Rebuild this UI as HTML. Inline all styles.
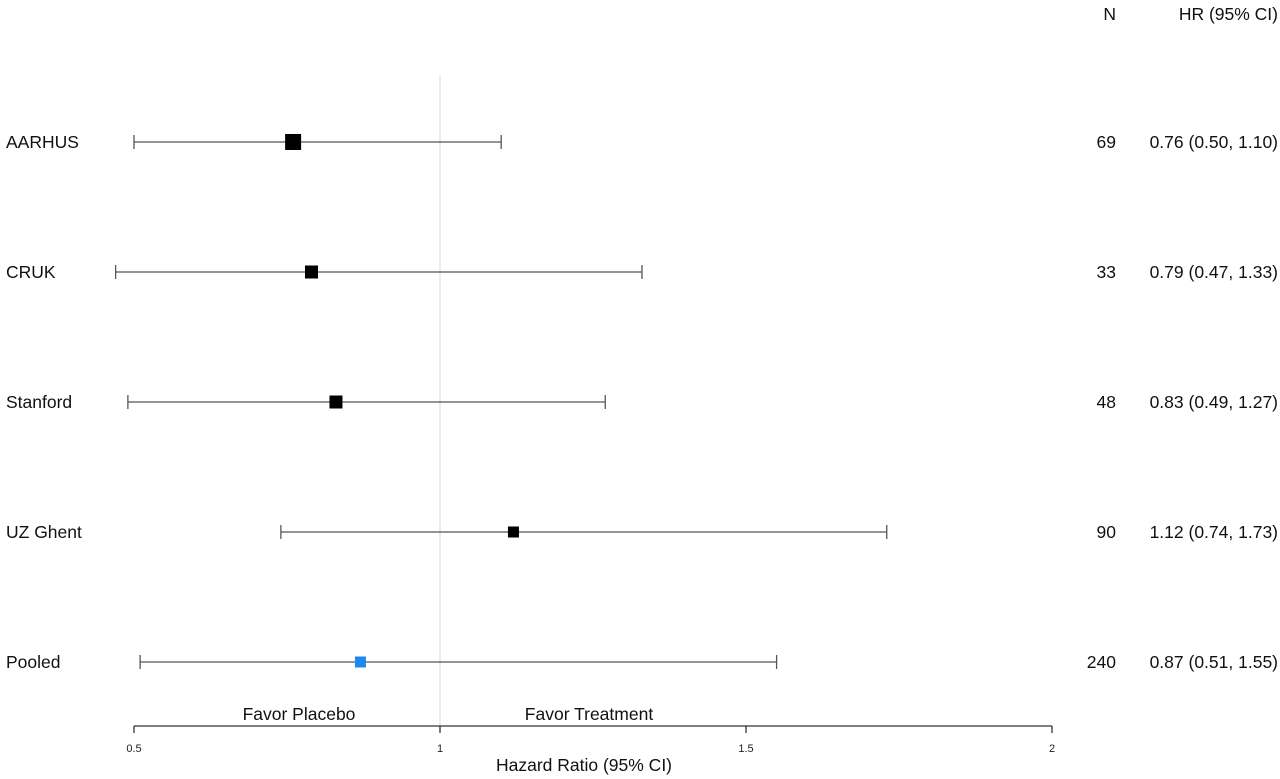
<!DOCTYPE html>
<html><head><meta charset="utf-8"><style>
body{margin:0;background:#fff;}
svg{display:block;font-family:"Liberation Sans",Arial,sans-serif;}
</style></head><body>
<svg id="chart" width="1280" height="779" viewBox="0 0 1280 779"></svg>
<script>
const studies = ["AARHUS","CRUK","Stanford","UZ Ghent","Pooled"];
const hr = [0.76,0.79,0.83,1.12,0.87];
const lower = [0.50,0.47,0.49,0.74,0.51];
const upper = [1.10,1.33,1.27,1.73,1.55];
const counts = [69,33,48,90,240];
const hrLabels = ["0.76 (0.50, 1.10)","0.79 (0.47, 1.33)","0.83 (0.49, 1.27)","1.12 (0.74, 1.73)","0.87 (0.51, 1.55)"];
const weights = [16,13,13,11,11];
const ticks = [0.5,1,1.5,2];
const tickLabels = ["0.5","1","1.5","2"];

const NS="http://www.w3.org/2000/svg";
const svg=document.getElementById('chart');
const FS=17.5;
function x(v){return 134+(v-0.5)*612;}
function y(i){return 142+i*130;}
function mk(tag,attrs,parent){const e=document.createElementNS(NS,tag);for(const k in attrs)e.setAttribute(k,attrs[k]);(parent||svg).appendChild(e);return e;}
function txt(s,attrs){const t=mk('text',attrs);t.textContent=s;return t;}

let e;
e=mk('line',{x1:x(1),x2:x(1),y1:76,y2:726,stroke:'#d8d8d8','stroke-width':1});



e=txt('N',{x:1116,y:20,'text-anchor':'end','font-size':FS,fill:'#111'});


e=txt('HR (95% CI)',{x:1278,y:20,'text-anchor':'end','font-size':FS,fill:'#111'});



studies.forEach((s,i)=>{
  const yy=y(i);
  const g=mk('g',{});
  
  
  let t=mk('text',{x:6,y:yy+6,'font-size':FS,fill:'#111'},g);t.textContent=s;
  
  
  let l=mk('line',{x1:x(lower[i]),x2:x(upper[i]),y1:yy,y2:yy,stroke:'#555','stroke-width':1.3},g);
  
  
  [lower[i],upper[i]].forEach(v=>{
    const c=mk('line',{x1:x(v),x2:x(v),y1:yy-7,y2:yy+7,stroke:'#555','stroke-width':1.3},g);
    
    
  });
  const w=weights[i];
  const r=mk('rect',{x:x(hr[i])-w/2,y:yy-w/2,width:w,height:w,fill:i===4?'#1e88f0':'#000'},g);
  
  
  t=mk('text',{x:1116,y:yy+6,'text-anchor':'end','font-size':FS,fill:'#111'},g);t.textContent=counts[i];
  
  
  t=mk('text',{x:1278,y:yy+6,'text-anchor':'end','font-size':FS,fill:'#111'},g);t.textContent=hrLabels[i];
  
  
});

e=mk('line',{x1:x(0.5),x2:x(2),y1:726,y2:726,stroke:'#333','stroke-width':1.3});


ticks.forEach((v,i)=>{
  const tl=mk('line',{x1:x(v),x2:x(v),y1:726,y2:733,stroke:'#333','stroke-width':1.3});
  
  
  const tt=txt(tickLabels[i],{x:x(v),y:752,'text-anchor':'middle','font-size':11,fill:'#222'});
  
  
});
e=txt('Favor Placebo',{x:299,y:720,'text-anchor':'middle','font-size':FS,fill:'#111'});


e=txt('Favor Treatment',{x:589,y:720,'text-anchor':'middle','font-size':FS,fill:'#111'});


e=txt('Hazard Ratio (95% CI)',{x:584,y:771,'text-anchor':'middle','font-size':FS,fill:'#111'});


</script>
</body></html>
